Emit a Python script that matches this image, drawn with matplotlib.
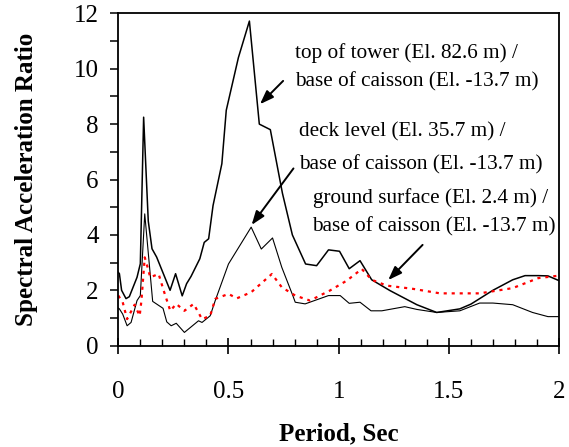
import numpy as np
import matplotlib
matplotlib.use("Agg")
import matplotlib.pyplot as plt
from matplotlib.ticker import MultipleLocator

plt.rcParams['font.family'] = ['Liberation Serif', 'DejaVu Serif']

# top of tower / base of caisson
tower_t = [0, 0.005, 0.015, 0.035, 0.05, 0.085, 0.1, 0.115, 0.136, 0.153, 0.174, 0.235,
           0.26, 0.29, 0.31, 0.33, 0.37, 0.39, 0.41, 0.43, 0.47, 0.49, 0.545, 0.595, 0.64,
           0.69, 0.745, 0.79, 0.85, 0.90, 0.954, 1.004, 1.048, 1.097, 1.15, 1.233, 1.355,
           1.445, 1.55, 1.60, 1.70, 1.79, 1.846, 1.906, 1.95, 2.0]
tower_v = [2.65, 2.6, 2.0, 1.7, 1.77, 2.47, 2.96, 8.25, 4.5, 3.5, 3.2, 2.0,
           2.6, 1.8, 2.24, 2.5, 3.14, 3.73, 3.86, 5.06, 6.57, 8.5, 10.4, 11.72, 8.0,
           7.8, 5.5, 4.0, 2.95, 2.89, 3.46, 3.41, 2.78, 3.07, 2.38, 1.99, 1.48,
           1.2, 1.33, 1.5, 2.0, 2.38, 2.53, 2.53, 2.52, 2.35]

# deck level / base of caisson
deck_t = [0, 0.005, 0.02, 0.04, 0.058, 0.085, 0.10, 0.12, 0.156, 0.203, 0.22, 0.24, 0.263,
          0.30, 0.364, 0.38, 0.417, 0.44, 0.50, 0.603, 0.649, 0.70, 0.742, 0.792, 0.803,
          0.848, 0.954, 1.007, 1.048, 1.097, 1.147, 1.196, 1.30, 1.355, 1.445, 1.55, 1.64,
          1.70, 1.79, 1.88, 1.95, 2.0]
deck_v = [1.36, 1.33, 1.14, 0.72, 0.84, 1.63, 1.81, 4.76, 1.6, 1.35, 0.86, 0.72, 0.81,
          0.48, 0.9, 0.84, 1.08, 1.63, 2.95, 4.28, 3.49, 3.89, 2.83, 1.81, 1.57,
          1.51, 1.81, 1.81, 1.53, 1.57, 1.26, 1.26, 1.41, 1.31, 1.2, 1.26, 1.54,
          1.54, 1.48, 1.2, 1.05, 1.05]

# ground surface / base of caisson
ground_t = [0, 0.02, 0.04, 0.074, 0.097, 0.105, 0.12, 0.133, 0.145, 0.183, 0.206, 0.236,
            0.263, 0.30, 0.342, 0.38, 0.417, 0.44, 0.50, 0.538, 0.603, 0.697, 0.742, 0.803,
            0.87, 0.96, 1.037, 1.105, 1.15, 1.218, 1.34, 1.46, 1.64, 1.79, 1.906, 2.0]
ground_v = [1.81, 1.57, 0.96, 1.48, 1.08, 1.63, 3.19, 2.83, 2.47, 2.59, 1.99, 1.26,
            1.51, 1.26, 1.51, 0.96, 1.08, 1.69, 1.87, 1.71, 1.93, 2.59, 2.11, 1.81,
            1.63, 1.99, 2.35, 2.77, 2.38, 2.17, 2.05, 1.89, 1.89, 2.08, 2.44, 2.53]

labels = [["top of tower (El. 82.6 m) /", "base of caisson (El. -13.7 m)"],
          ["deck level (El. 35.7 m) /", "base of caisson (El. -13.7 m)"],
          ["ground surface (El. 2.4 m) /", "base of caisson (El. -13.7 m)"]]
label_x = [[0.802, 0.802], [0.82, 0.82], [0.885, 0.88]]
label_y = [[10.57, 9.52], [7.71, 6.52], [5.33, 4.28]]
arrow_tail = [(0.748, 9.56), (0.795, 6.40), (1.381, 3.64)]
arrow_head = [(0.643, 8.72), (0.605, 4.36), (1.225, 2.37)]

fig = plt.figure(figsize=(5.69, 4.47), dpi=100)
ax = fig.add_axes([0.2079, 0.2266, 0.7745, 0.7436])

ax.plot(tower_t, tower_v, color='black', lw=1.1)
ax.plot(deck_t, deck_v, color='black', lw=0.8)
ax.plot(ground_t, ground_v, color='red', lw=1.6, linestyle=(0, (1.4, 2.2)))

for lines, xs, ys in zip(labels, label_x, label_y):
    for s, x, y in zip(lines, xs, ys):
        ax.text(x, y, s, fontsize=15.3, ha='left', va='center')

for tail, head in zip(arrow_tail, arrow_head):
    ax.annotate('', xy=head, xytext=tail,
                arrowprops=dict(arrowstyle='-|>,head_length=0.55,head_width=0.2',
                                color='black', lw=1.4, mutation_scale=15,
                                shrinkA=0, shrinkB=0))

ax.set_xlim(0, 2)
ax.set_ylim(0, 12)
ax.xaxis.set_major_locator(MultipleLocator(0.5))
ax.xaxis.set_minor_locator(MultipleLocator(0.1))
ax.yaxis.set_major_locator(MultipleLocator(2))
ax.yaxis.set_minor_locator(MultipleLocator(1))
ax.set_xticks([0, 0.5, 1, 1.5, 2], ['0', '0.5', '1', '1.5', '2'])

ax.tick_params(axis='x', which='major', direction='inout', length=11, width=1.2,
               labelsize=18, pad=20)
ax.tick_params(axis='x', which='minor', direction='in', length=5, width=1)
ax.tick_params(axis='y', which='both', direction='out', length=6, width=1.1,
               labelsize=18, pad=8)
for sp in ax.spines.values():
    sp.set_linewidth(1.3)

ax.set_xlabel('Period, Sec', fontsize=18, fontweight='bold', labelpad=14)
ax.set_ylabel('Spectral Acceleration Ratio', fontsize=18, fontweight='bold', labelpad=26)

fig.savefig('out.png', dpi=100)
